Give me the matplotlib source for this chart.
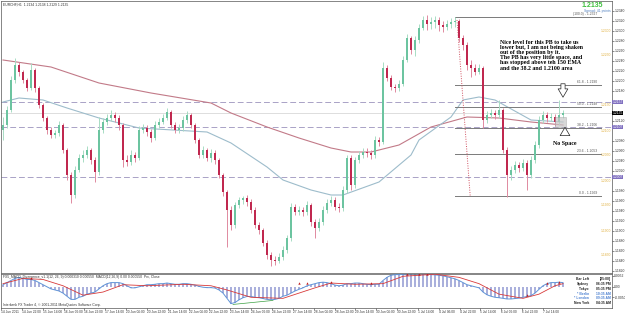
import matplotlib
matplotlib.use("Agg")
import matplotlib.pyplot as plt
from matplotlib.patches import Rectangle
import numpy as np

plt.rcParams["font.family"] = ["Liberation Sans", "DejaVu Sans"]

# ---- data (EURCHF H1, bars grouped) ----
first_open = 1.2101
closes = [1.2111,1.2141,1.2201,1.2231,1.2217,1.2201,1.2185,1.2221,1.2185,1.2151,
          1.2125,1.2101,1.2091,1.2095,1.2111,1.2061,1.2011,1.1971,1.2021,1.2045,
          1.2051,1.2061,1.2041,1.2017,1.2101,1.2117,1.2125,1.2131,1.2125,1.2111,
          1.2041,1.2037,1.2051,1.2045,1.2101,1.2105,1.2097,1.2085,1.2111,1.2117,
          1.2125,1.2137,1.2111,1.2101,1.2105,1.2121,1.2131,1.2111,1.2081,1.2051,
          1.2061,1.2045,1.2055,1.2041,1.2011,1.1977,1.1941,1.1911,1.1951,1.1961,
          1.1965,1.1957,1.1941,1.1911,1.1901,1.1875,1.1851,1.1841,1.1839,1.1847,
          1.1861,1.1885,1.1947,1.1937,1.1941,1.1937,1.1951,1.1917,1.1905,1.1917,
          1.1941,1.1955,1.1961,1.1947,1.1945,1.1981,1.2045,1.1991,1.2041,1.2051,
          1.2057,1.2055,1.2051,1.2081,1.2077,1.2225,1.2205,1.2187,1.2185,1.2193,
          1.2241,1.2285,1.2261,1.2281,1.2305,1.2321,1.2313,1.2317,1.2321,1.2311,
          1.2307,1.2313,1.2317,1.2319,1.2285,1.2271,1.2231,1.2225,1.2217,1.2225,
          1.2121,1.2131,1.2135,1.2131,1.2141,1.2061,1.2011,1.2021,1.2031,1.2025,
          1.2035,1.2011,1.2041,1.2071,1.2121,1.2131,1.2125,1.2127,1.2117,1.2131,
          1.2135]
highs = [1.2127,1.2149,1.2209,1.2245,1.2237,1.2221,1.2205,1.2235,1.2225,1.2189,
         1.2155,1.2129,1.2107,1.2101,1.2119,1.2115,1.2065,1.2017,1.2029,1.2053,
         1.2061,1.2069,1.2065,1.2047,1.2127,1.2125,1.2133,1.2141,1.2137,1.2131,
         1.2115,1.2051,1.2061,1.2057,1.2109,1.2113,1.2111,1.2103,1.2119,1.2125,
         1.2133,1.2145,1.2141,1.2117,1.2113,1.2129,1.2139,1.2135,1.2115,1.2085,
         1.2069,1.2065,1.2063,1.2061,1.2045,1.2015,1.1981,1.1949,1.1957,1.1967,
         1.1969,1.1971,1.1963,1.1947,1.1917,1.1905,1.1881,1.1857,1.1849,1.1855,
         1.1869,1.1891,1.1955,1.1953,1.1949,1.1947,1.1959,1.1955,1.1923,1.1925,
         1.1949,1.1963,1.1969,1.1967,1.1955,1.1989,1.2051,1.2051,1.2047,1.2059,
         1.2065,1.2065,1.2061,1.2089,1.2087,1.2237,1.2231,1.2211,1.2193,1.2201,
         1.2249,1.2293,1.2289,1.2289,1.2313,1.2329,1.2331,1.2327,1.2329,1.2327,
         1.2319,1.2321,1.2325,1.2327,1.2323,1.2291,1.2277,1.2241,1.2233,1.2233,
         1.2229,1.2139,1.2143,1.2141,1.2161,1.2145,1.2067,1.2029,1.2039,1.2037,
         1.2043,1.2041,1.2049,1.2079,1.2129,1.2139,1.2137,1.2135,1.2133,1.2161,
         1.2141]
lows = [1.2081,1.2105,1.2137,1.2195,1.2209,1.2195,1.2179,1.2181,1.2177,1.2145,
        1.2119,1.2093,1.2085,1.2085,1.2089,1.2055,1.2001,1.1955,1.1965,1.2017,
        1.2037,1.2045,1.2033,1.1997,1.2011,1.2095,1.2111,1.2119,1.2117,1.2101,
        1.2027,1.2029,1.2031,1.2037,1.2041,1.2095,1.2089,1.2077,1.2081,1.2105,
        1.2113,1.2121,1.2105,1.2095,1.2095,1.2099,1.2115,1.2105,1.2075,1.2045,
        1.2045,1.2039,1.2037,1.2033,1.2005,1.1969,1.1867,1.1901,1.1905,1.1945,
        1.1953,1.1949,1.1935,1.1905,1.1893,1.1869,1.1843,1.1829,1.1831,1.1835,
        1.1841,1.1855,1.1879,1.1931,1.1931,1.1929,1.1931,1.1909,1.1885,1.1899,
        1.1911,1.1935,1.1949,1.1941,1.1937,1.1939,1.1975,1.1981,1.1985,1.2035,
        1.2045,1.2047,1.2043,1.2045,1.2069,1.2073,1.2199,1.2181,1.2177,1.2179,
        1.2189,1.2237,1.2253,1.2249,1.2275,1.2301,1.2301,1.2303,1.2305,1.2299,
        1.2297,1.2301,1.2305,1.2307,1.2277,1.2261,1.2221,1.2207,1.2211,1.2213,
        1.2105,1.2115,1.2125,1.2123,1.2125,1.2055,1.1967,1.2001,1.2015,1.2017,
        1.2019,1.1981,1.2005,1.2035,1.2065,1.2115,1.2117,1.2119,1.2109,1.2111,
        1.2125]

# moving averages, read at a few bars
ema150_idx = [0, 12, 24, 37, 52, 57, 66, 74, 82, 87, 92, 99, 107, 116, 124, 132, 140]
ema150_val = [1.2241, 1.2227, 1.2195, 1.2175, 1.2155, 1.2135, 1.2107, 1.2085, 1.2065,
              1.2057, 1.2057, 1.2071, 1.2107, 1.2127, 1.2125, 1.2117, 1.2111]
ema_fast_idx = [0, 4, 10, 16, 24, 34, 51, 57, 66, 70, 77, 82, 85, 94, 102, 104, 112,
                115, 119, 123, 132, 140]
ema_fast_val = [1.2157, 1.2165, 1.2161, 1.2145, 1.2125, 1.2105, 1.2097, 1.2075, 1.2027,
                1.2001, 1.1981, 1.1971, 1.1971, 1.1997, 1.2051, 1.2081, 1.2127, 1.2161,
                1.2167, 1.2161, 1.2121, 1.2117]

h_levels = [1.2157, 1.2107, 1.2007]          # dashed lines
bid = 1.2135
fib_high, fib_low, fib_start = 1.2327, 1.1969, 113
fib_ratios = [100.0, 61.8, 50.0, 38.2, 23.6, 0.0]
round_levels = [1.2300, 1.2250, 1.2150, 1.2100, 1.2050, 1.2000, 1.1950, 1.1900, 1.1850]

macd_hist = [0.0010,0.0020,0.0030,0.0040,0.0045,0.0040,0.0035,0.0035,0.0030,0.0020,
             0.0010,0.0000,-0.0010,-0.0015,-0.0020,-0.0030,-0.0045,-0.0060,-0.0060,-0.0050,
             -0.0045,-0.0035,-0.0030,-0.0025,-0.0010,0.0005,0.0015,0.0020,0.0020,0.0020,
             0.0015,0.0005,-0.0005,-0.0005,0.0000,0.0005,0.0010,0.0010,0.0012,0.0015,
             0.0015,0.0018,0.0015,0.0012,0.0012,0.0015,0.0015,0.0012,0.0008,0.0002,
             -0.0002,-0.0004,-0.0004,-0.0006,-0.0015,-0.0030,-0.0055,-0.0080,-0.0075,-0.0062,
             -0.0052,-0.0046,-0.0046,-0.0050,-0.0052,-0.0056,-0.0060,-0.0062,-0.0060,-0.0055,
             -0.0045,-0.0040,-0.0030,-0.0020,-0.0012,-0.0005,0.0005,0.0010,0.0015,0.0020,
             0.0022,0.0020,0.0015,0.0008,0.0005,0.0008,0.0015,0.0015,0.0018,0.0018,
             0.0015,0.0012,0.0010,0.0012,0.0012,0.0030,0.0045,0.0055,0.0058,0.0058,
             0.0060,0.0062,0.0062,0.0062,0.0062,0.0062,0.0060,0.0058,0.0057,0.0055,
             0.0052,0.0048,0.0043,0.0038,0.0030,0.0020,0.0010,0.0005,0.0000,-0.0005,
             -0.0025,-0.0038,-0.0045,-0.0050,-0.0052,-0.0055,-0.0058,-0.0058,-0.0056,-0.0054,
             -0.0050,-0.0046,-0.0042,-0.0030,-0.0012,0.0005,0.0015,0.0020,0.0020,0.0022,
             0.0020]
sig_idx = [0, 5, 10, 15, 20, 25, 30, 36, 45, 52, 56, 62, 70, 78, 82, 88, 95, 100, 108,
           114, 119, 124, 130, 134, 138, 140]
sig_val = [0.0015, 0.0040, 0.0035, 0.0005, -0.0040, -0.0025, 0.0010, 0.0005, 0.0012,
           0.0005, -0.0015, -0.0050, -0.0055, -0.0005, 0.0018, 0.0012, 0.0015, 0.0050,
           0.0060, 0.0045, 0.0015, -0.0035, -0.0055, -0.0035, 0.0005, 0.0015]
arrow_idx = [7, 74, 76, 82, 92, 101, 104, 106, 131, 136, 139]
arrow_val = [0.0040, 0.0020, 0.0020, 0.0022, 0.0018, 0.0060, 0.0062, 0.0062, -0.0040,
             0.0020, 0.0022]

date_labels = ["14 Jun 2011", "14 Jun 22:00", "15 Jun 14:00", "16 Jun 06:00", "16 Jun 22:00",
               "17 Jun 14:00", "20 Jun 06:00", "20 Jun 22:00", "21 Jun 14:00", "22 Jun 06:00",
               "22 Jun 22:00", "23 Jun 14:00", "24 Jun 06:00", "24 Jun 22:00", "27 Jun 14:00",
               "28 Jun 06:00", "28 Jun 22:00", "29 Jun 14:00", "30 Jun 06:00", "30 Jun 22:00",
               "1 Jul 14:00", "4 Jul 06:00", "4 Jul 22:00", "5 Jul 14:00", "6 Jul 06:00",
               "6 Jul 22:00", "7 Jul 14:00"]

SMALL = 2.4

# ---- figure ----
W, H = 625, 315
fig = plt.figure(figsize=(W / 100, H / 100), dpi=100)
fig.patch.set_facecolor("white")
ax = fig.add_axes([1 / W, 1 - 273 / H, 611 / W, 272 / H])
ax2 = fig.add_axes([1 / W, 1 - 308 / H, 611 / W, 34 / H], sharex=ax)

n = len(closes)
idx = np.arange(n)
opens = np.array([first_open] + closes[:-1])
closes_a = np.array(closes)
up = closes_a >= opens
body_col = np.where(up, "#6cc4a0", "#c0284f")
wick_col = np.where(up, "#a8dcc4", "#e08aa0")

ax.plot(ema150_idx, ema150_val, color="#c27a88", lw=0.8, zorder=2)
ax.plot(ema_fast_idx, ema_fast_val, color="#9dbccb", lw=0.8, zorder=2)
for lv in h_levels:
    ax.axhline(lv, color="#a9a2c6", lw=0.7, ls=(0, (6, 3)), zorder=1)
ax.axhline(bid, color="#d8d8d8", lw=0.6, zorder=1)

ax.vlines(idx, lows, highs, colors=wick_col, lw=0.7, zorder=3)
ax.bar(idx, closes_a - opens, bottom=opens, width=0.6, color=body_col, lw=0, zorder=4)

# fibonacci retracement
for r in fib_ratios:
    lv = fib_low + (fib_high - fib_low) * r / 100
    ax.plot([fib_start, 149.5], [lv, lv], color="#7a7a7a", lw=0.7, zorder=2)
    lab = f"({r:.1f}) - {lv:.4f}" if r == 100 else f"{r:.1f} - {lv:.4f}"
    ax.text(148.5, lv + 0.0002, lab, fontsize=SMALL, color="#555555", ha="right", va="bottom")
ax.plot([113.5, 116.8], [fib_high - 0.0006, fib_low], color="#d05060", lw=0.7,
        ls=(0, (1, 1.5)), zorder=2)

for lv in round_levels:
    ax.text(151.9, lv, f"{lv:.4f}", fontsize=SMALL, color="#e0b040", ha="right", va="center")

ax.add_patch(Rectangle((138, 1.2107), 2.8, 0.0020, fc="#c8c8c8", ec="#a0a0a0",
                       lw=0.4, alpha=0.7, zorder=5))
ax.annotate("", xy=(140, 1.2161), xytext=(140, 1.2199),
            arrowprops=dict(arrowstyle="simple,head_width=0.7,head_length=0.6,tail_width=0.3",
                            fc="white", ec="#222222", lw=0.5), zorder=6)
ax.annotate("", xy=(140.5, 1.2112), xytext=(140.5, 1.2086),
            arrowprops=dict(arrowstyle="simple,head_width=0.7,head_length=0.6,tail_width=0.3",
                            fc="white", ec="#222222", lw=0.5), zorder=6)
ax.text(137.5, 1.2080, "No Space", fontsize=4.2, family="Liberation Serif",
        weight="bold", va="top", ha="left")
note = ("Nice level for this PB to take us\n"
        "lower but, I am not being shaken\n"
        "out of the position by it.\n"
        "The PB has very little space, and\n"
        "has stopped above teh 150 EMA\n"
        "and the 38.2 and 1.2100 area")
ax.text(124.3, 1.2282, note, fontsize=4.2, family="Liberation Serif", weight="bold",
        va="top", ha="left", linespacing=1.05)

ax.text(0.003, 0.996, "EURCHF,H1  1.2134 1.2138 1.2129 1.2135", transform=ax.transAxes,
        fontsize=SMALL, va="top", ha="left", color="#333333")
ax.text(0.985, 0.998, "1.2135", transform=ax.transAxes, fontsize=5, weight="bold",
        color="#3fbf3f", ha="right", va="top")
ax.text(0.998, 0.972, "Spread: 41 points", transform=ax.transAxes, fontsize=SMALL,
        color="#5080c0", ha="right", va="top")

ax.set_xlim(-0.5, 152.25)
ax.set_ylim(1.1815, 1.2359)
ax.yaxis.tick_right()
boxed = h_levels + [bid]
yt = [t for t in np.arange(1.1820, 1.2359, 0.0020)
      if min(abs(t - b) for b in boxed) > 0.0008]
ax.set_yticks(yt)
ax.yaxis.set_major_formatter(plt.FormatStrFormatter("%.4f"))
ax.tick_params(axis="y", labelsize=SMALL, length=1.2, width=0.4, pad=0.5, colors="#333333")
ax.tick_params(axis="x", bottom=False, labelbottom=False)

for lv, fc in [(h_levels[0], "#8070c0"), (h_levels[1], "#8070c0"),
               (h_levels[2], "#8070c0"), (bid, "black")]:
    ax.text(1.001, lv, f"{lv:.4f}", transform=ax.get_yaxis_transform(), fontsize=SMALL,
            color="white", ha="left", va="center",
            bbox=dict(boxstyle="square,pad=0.1", fc=fc, ec="none"), clip_on=False)

# ---- MACD panel ----
ax2.bar(idx, macd_hist, width=0.6, color="#aab0dc", lw=0, zorder=2)
ax2.plot(idx, macd_hist, color="#5f93d6", lw=0.7, zorder=3)
ax2.plot(sig_idx, sig_val, color="#d83a3a", lw=0.6, zorder=3)
ax2.scatter(arrow_idx, arrow_val, marker="^", s=3, color="#c02020", zorder=4, lw=0)
ax2.plot([57.5, 67.5], [-0.0084, -0.0065], color="#3aa040", lw=0.5, zorder=4)
ax2.set_ylim(-0.0101, 0.0061)
ax2.yaxis.tick_right()
ax2.set_yticks([0.0052, 0.0, -0.0050])
ax2.set_yticklabels(["0.0052", "0.00", "-0.0050"])
ax2.tick_params(axis="y", labelsize=SMALL, length=1.2, width=0.4, pad=0.5, colors="#333333")
ax2.set_xticks(np.linspace(-0.5, 135, len(date_labels)))
ax2.set_xticklabels(date_labels, ha="left")
ax2.tick_params(axis="x", labelsize=2.3, length=1.2, width=0.4, pad=0.5, colors="#333333")
ax2.text(0.003, 0.97, "FX5_MACD_Divergence_v1.1(12, 26, 9) 0.000310 0.000550  "
         "MACD(12,26,9) 0.00 0.000550  Prc, Close", transform=ax2.transAxes,
         fontsize=SMALL, va="top", ha="left", color="#333333")
ax2.text(0.003, 0.04, "Interbank FX Trader 4, \u00a9 2001-2011 MetaQuotes Software Corp.",
         transform=ax2.transAxes, fontsize=SMALL, va="bottom", ha="left", color="#333333")

clock_names = ["Bar Left", "Sydney", "Tokyo", "* Berlin", "* London", "New York"]
clock_times = ["[25:00]", "06:35 PM", "05:35 PM", "10:35 AM", "09:35 AM", "04:35 AM"]
clock_cols = ["#222222", "#222222", "#222222", "#4a7fd0", "#4a7fd0", "#222222"]
for k, (nm, tm, c) in enumerate(zip(clock_names, clock_times, clock_cols)):
    yk = 0.90 - k * 0.14
    ax2.text(0.962, yk, nm, transform=ax2.transAxes, fontsize=SMALL, weight="bold",
             color=c, ha="right", va="top")
    ax2.text(0.998, yk, tm, transform=ax2.transAxes, fontsize=SMALL, weight="bold",
             color=c, ha="right", va="top")

for a in (ax, ax2):
    for s in a.spines.values():
        s.set_linewidth(0.5)
        s.set_color("#555555")

fig.savefig("out.png", dpi=100)
